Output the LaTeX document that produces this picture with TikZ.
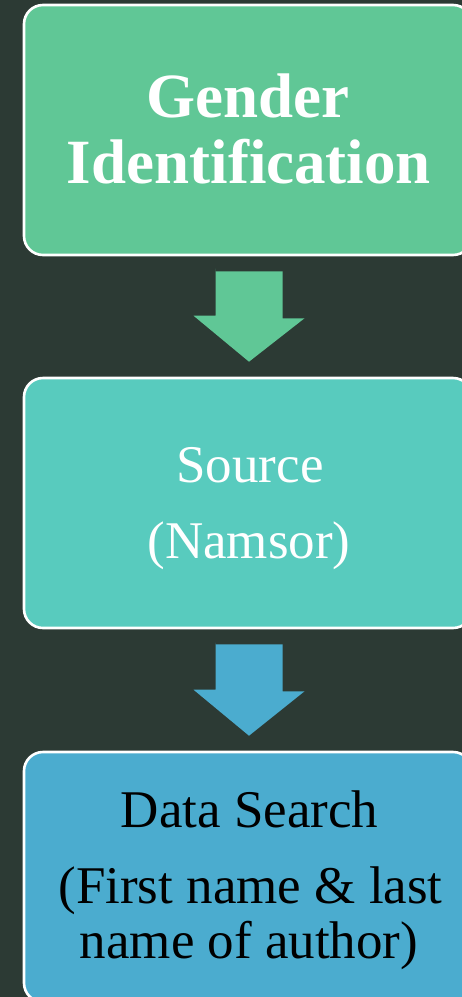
\documentclass[tikz,border=0pt]{standalone}
\usepackage{fontspec}
\setmainfont{Liberation Serif}
\usetikzlibrary{calc}
\definecolor{bgc}{RGB}{44,58,52}
\definecolor{gc}{RGB}{96,199,150}
\definecolor{tc}{RGB}{88,203,190}
\definecolor{bc}{RGB}{75,172,207}
\tikzset{
  boxstyle/.style={draw=white, line width=2.6pt, rounded corners=19pt, minimum width=448pt, minimum height=250pt, inner sep=0pt},
  txt/.style={anchor=base, inner sep=0pt}
}
\begin{document}
\begin{tikzpicture}[x=1pt,y=1pt]
\fill[bgc] (0,0) rectangle (462,-997);
\useasboundingbox (0,0) rectangle (462,-997);
\clip (0,0) rectangle (462,-997);
% boxes
\node[boxstyle, fill=gc] (b1) at (248,-130) {};
\node[boxstyle, fill=tc] (b2) at (248,-503) {};
\node[boxstyle, fill=bc] (b3) at (248,-877) {};
% block arrows
\fill[gc] ($(b1.south)+(1,-15)$) coordinate (a1s)
  ++(-33.5,0) -- ++(67,0) -- ++(0,-47) -- ++(22,0)
  -- ($(b2.north)+(1,15)$) coordinate (a1t) -- ($(b2.north)+(-54.5,61)$) -- ++(22,0) -- ++(0,47) -- cycle;
\fill[bc] ($(b2.south)+(1,-15)$) coordinate (a2s)
  ++(-33.5,0) -- ++(67,0) -- ++(0,-47) -- ++(22,0)
  -- ($(b3.north)+(1,15)$) coordinate (a2t) -- ($(b3.north)+(-54.5,61)$) -- ++(22,0) -- ++(0,47) -- cycle;
% texts
\node[txt, text=white, font=\fontsize{63}{66}\selectfont\bfseries] (t1a) at (248,-117) {Gender};
\node[txt, text=white, font=\fontsize{63}{66}\selectfont\bfseries] (t1b) at (249,-183) {Identification};
\node[txt, text=white, font=\fontsize{53}{56}\selectfont] (t2a) at (250,-482) {Source};
\node[txt, text=white, font=\fontsize{53}{56}\selectfont] (t2b) at (249,-558) {(Namsor)};
\node[txt, text=black, font=\fontsize{53}{56}\selectfont] (t3a) at (249.5,-827) {Data Search};
\node[txt, text=black, font=\fontsize{53}{56}\selectfont] (t3b) at (250.5,-903) {(First name \& last};
\node[txt, text=black, font=\fontsize{53}{56}\selectfont] (t3c) at (249,-958) {name of author)};
\end{tikzpicture}
\end{document}
